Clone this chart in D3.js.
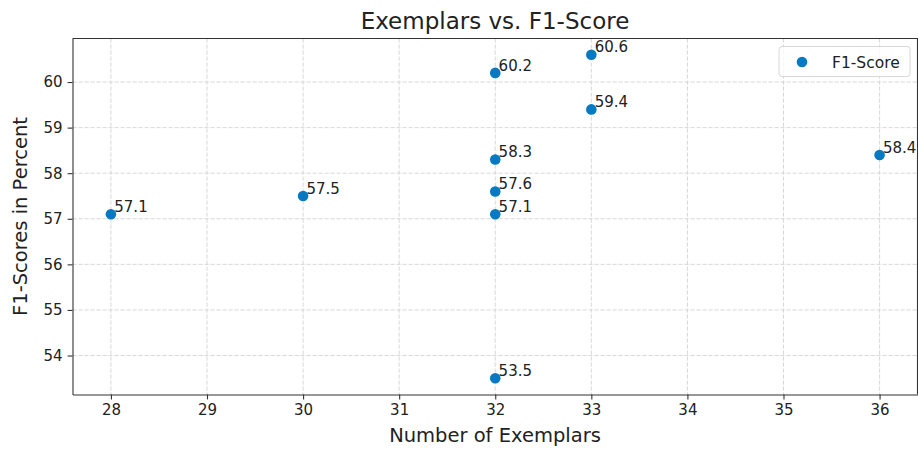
<!DOCTYPE html>
<html>
<head>
<meta charset="utf-8">
<script src="https://cdn.jsdelivr.net/npm/d3@7"></script>
<style>
  body { margin: 0; background: #fff; }
  svg text { font-family: "DejaVu Sans", sans-serif; fill: #222; }
  .axis path, .axis line { stroke: #333; stroke-width: 1.1; }
  .axis text { font-size: 15px; fill: #222; }
  .grid line { stroke: #d4d4d4; stroke-dasharray: 4.2 1.8; stroke-width: 0.9; }
</style>
</head>
<body>
<svg id="chart" width="918" height="450"></svg>
<script>
// exemplars / f1 scores
const exemplars = [28, 30, 32, 32, 32, 32, 32, 33, 33, 36];
const f1Scores  = [57.1, 57.5, 60.2, 58.3, 57.6, 57.1, 53.5, 60.6, 59.4, 58.4];
const xTicks = [28, 29, 30, 31, 32, 33, 34, 35, 36];
const yTicks = [54, 55, 56, 57, 58, 59, 60];

let margin = {top: 38.5, right: 0, bottom: 55.5, left: 72.5};
let widthChart = 918 - margin.left - margin.right;
let heightChart = 450 - margin.top - margin.bottom;
const dotColor = "#0579c1";

let svg = d3.select("#chart");
let chart = svg.append("g")
  .attr("transform", "translate(" + margin.left + "," + margin.top + ")");

let x = d3.scaleLinear().domain([27.6, 36.4]).range([0, widthChart]);
let y = d3.scaleLinear().domain([53.145, 60.955]).range([heightChart, 0]);

/* grid */
chart.append("g").attr("class", "grid")
  .selectAll("line").data(xTicks).enter().append("line")
  .attr("x1", d => x(d)).attr("x2", d => x(d))
  .attr("y1", 0).attr("y2", heightChart);
chart.append("g").attr("class", "grid")
  .selectAll("line").data(yTicks).enter().append("line")
  .attr("y1", d => y(d)).attr("y2", d => y(d))
  .attr("x1", 0).attr("x2", widthChart);

/* axes */
chart.append("g").attr("class", "axis")
  .attr("transform", "translate(0," + heightChart + ")")
  .call(d3.axisBottom(x).tickValues(xTicks).tickSize(4.9).tickPadding(5).tickSizeOuter(0));
chart.append("g").attr("class", "axis")
  .call(d3.axisLeft(y).tickValues(yTicks).tickSize(4.9).tickPadding(5).tickSizeOuter(0));
chart.append("line")
  .attr("x1", 0).attr("x2", widthChart).attr("y1", 0).attr("y2", 0)
  .attr("stroke", "#333").attr("stroke-width", 1.1);
chart.append("line")
  .attr("x1", widthChart - 0.5).attr("x2", widthChart - 0.5).attr("y1", 0).attr("y2", heightChart)
  .attr("stroke", "#333").attr("stroke-width", 1.1);

/* points */
let pts = exemplars.map((e, i) => ({x: e, y: f1Scores[i]}));
chart.selectAll("circle.dot").data(pts).enter().append("circle")
  .attr("class", "dot")
  .attr("cx", d => x(d.x)).attr("cy", d => y(d.y))
  .attr("r", 5.3).attr("fill", dotColor);

/* annotations */
chart.selectAll("text.lbl").data(pts).enter().append("text")
  .attr("class", "lbl")
  .attr("x", d => x(d.x + 0.035))
  .attr("y", d => y(d.y + 0.05))
  .attr("font-size", "15px")
  .text(d => d.y.toFixed(1));

/* titles */
svg.append("text").text("Exemplars vs. F1-Score")
  .attr("x", 495).attr("y", 29)
  .attr("text-anchor", "middle").attr("font-size", "23px");
svg.append("text").text("Number of Exemplars")
  .attr("x", 495).attr("y", 442)
  .attr("text-anchor", "middle").attr("font-size", "19.5px");
svg.append("text").text("F1-Scores in Percent")
  .attr("transform", "translate(27," + (margin.top + heightChart / 2) + ") rotate(-90)")
  .attr("text-anchor", "middle").attr("font-size", "19.5px");

/* legend */
let legend = svg.append("g");
legend.append("rect")
  .attr("x", 779).attr("y", 46.5).attr("width", 131).attr("height", 30)
  .attr("rx", 3).attr("fill", "#fff").attr("fill-opacity", 0.8)
  .attr("stroke", "#d8d8d8");
legend.append("circle")
  .attr("cx", 802).attr("cy", 62).attr("r", 5.3).attr("fill", dotColor);
legend.append("text").text("F1-Score")
  .attr("x", 832).attr("y", 67.5).attr("font-size", "15.5px");
</script>
</body>
</html>
